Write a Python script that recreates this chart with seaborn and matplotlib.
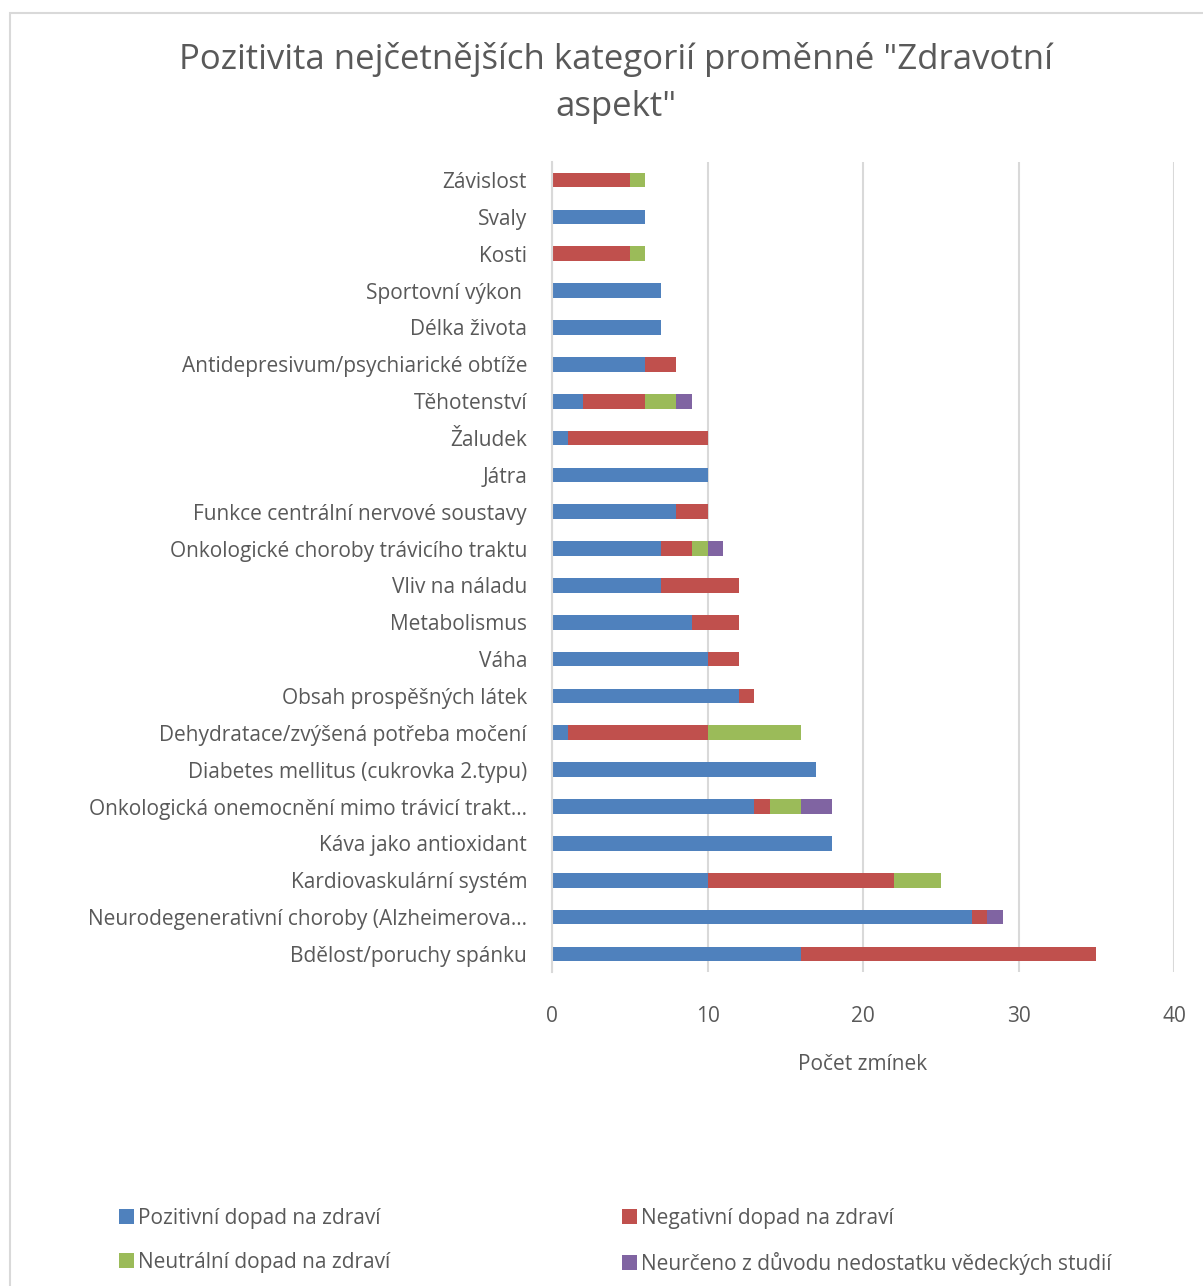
import pandas as pd
import seaborn as sns
import matplotlib.pyplot as plt
from matplotlib.patches import Patch, Rectangle

# Data (top to bottom as in the chart)
categories = [
    "Závislost", "Svaly", "Kosti", "Sportovní výkon ", "Délka života",
    "Antidepresivum/psychiarické obtíže", "Těhotenství", "Žaludek", "Játra",
    "Funkce centrální nervové soustavy", "Onkologické choroby trávicího traktu",
    "Vliv na náladu", "Metabolismus", "Váha", "Obsah prospěšných látek",
    "Dehydratace/zvýšená potřeba močení", "Diabetes mellitus (cukrovka 2.typu)",
    "Onkologická onemocnění mimo trávicí trakt…", "Káva jako antioxidant",
    "Kardiovaskulární systém", "Neurodegenerativní choroby (Alzheimerova…",
    "Bdělost/poruchy spánku",
]
positive = [0, 6, 0, 7, 7, 6, 2, 1, 10, 8, 7, 7, 9, 10, 12, 1, 17, 13, 18, 10, 27, 16]
negative = [5, 0, 5, 0, 0, 2, 4, 9, 0, 2, 2, 5, 3, 2, 1, 9, 0, 1, 0, 12, 1, 19]
neutral = [1, 0, 1, 0, 0, 0, 2, 0, 0, 0, 1, 0, 0, 0, 0, 6, 0, 2, 0, 3, 0, 0]
undetermined = [0, 0, 0, 0, 0, 0, 1, 0, 0, 0, 1, 0, 0, 0, 0, 0, 0, 2, 0, 0, 1, 0]

series_names = [
    "Pozitivní dopad na zdraví", "Negativní dopad na zdraví",
    "Neutrální dopad na zdraví", "Neurčeno z důvodu nedostatku vědeckých studií",
]
colors = ["#4f81bd", "#c0504d", "#9bbb59", "#8064a2"]

df = pd.DataFrame({
    "Kategorie": categories,
    "pos": positive, "neg": negative, "neu": neutral, "und": undetermined,
})
# cumulative sums for stacking (draw the longest first)
df["c1"] = df["pos"]
df["c2"] = df["c1"] + df["neg"]
df["c3"] = df["c2"] + df["neu"]
df["c4"] = df["c3"] + df["und"]

sns.set_theme(style="white")
plt.rcParams['font.family'] = ['Open Sans', 'DejaVu Sans']
text_color = "#595959"
grid_color = "#d9d9d9"

fig = plt.figure(figsize=(12.03, 12.86), dpi=100)
ax = fig.add_axes([0.4589, 0.2439, 0.5170, 0.6304])

for col, color in zip(["c4", "c3", "c2", "c1"], colors[::-1]):
    sns.barplot(data=df, x=col, y="Kategorie", ax=ax, color=color,
                width=0.4, saturation=1, orient="h", linewidth=0)

ax.set_xlim(0, 40)
ax.set_xticks([0, 10, 20, 30, 40])
ax.xaxis.grid(True, color=grid_color, linewidth=1.5)
ax.set_axisbelow(True)
for side in ["top", "right", "bottom"]:
    ax.spines[side].set_visible(False)
ax.spines["left"].set_color(grid_color)
ax.spines["left"].set_linewidth(1.5)
ax.tick_params(axis="both", length=0, labelsize=15, colors=text_color)
ax.tick_params(axis="x", pad=24)
ax.tick_params(axis="y", pad=18)
ax.set_ylabel("")
ax.set_xlabel("Počet zmínek", fontsize=15, color=text_color, labelpad=20)

fig.suptitle('Pozitivita nejčetnějších kategorií proměnné "Zdravotní\naspekt"',
             fontsize=25, color=text_color, x=0.512, y=0.967, linespacing=1.5)

# legend filled column-wise: reorder so rows read pos/neg, neu/und
order = [0, 2, 1, 3]
handles = [Patch(facecolor=colors[i], edgecolor="none", label=series_names[i]) for i in order]
fig.legend(handles=handles, ncol=2, loc="lower left", bbox_to_anchor=(0.0835, -0.006),
           frameon=False, fontsize=15, labelcolor=text_color,
           handlelength=0.7, handleheight=0.7, handletextpad=0.2,
           columnspacing=11.15, labelspacing=1.1)

# outer chart border
fig.patches.append(Rectangle((0.0085, -0.01), 1.0, 0.9999, transform=fig.transFigure,
                             fill=False, edgecolor=grid_color, linewidth=1.5))

fig.savefig("out.png", dpi=100, facecolor="white")
